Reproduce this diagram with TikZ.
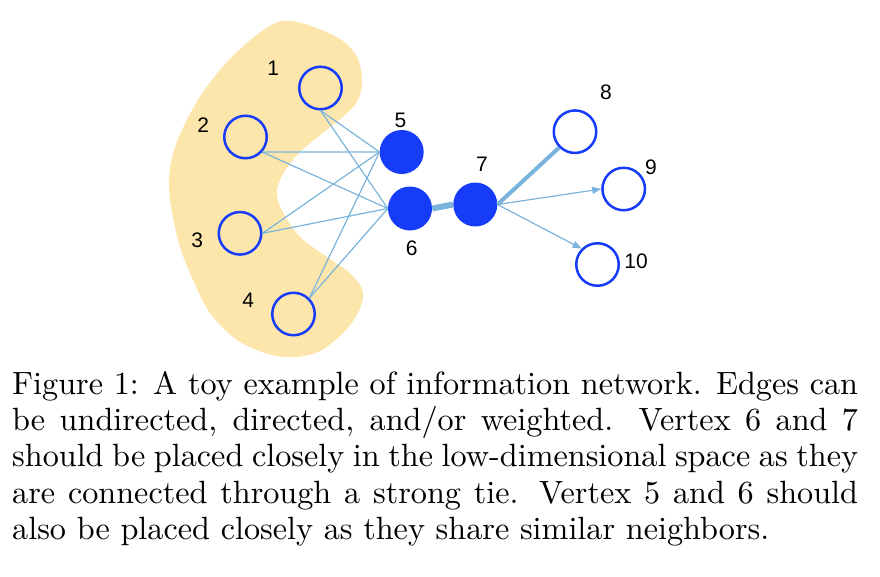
\documentclass[tikz,border=0pt]{standalone}
\usepackage{fontspec}
\usepackage{graphicx}
\newfontfamily\labfont{Liberation Sans}
\usetikzlibrary{arrows.meta}
\definecolor{blobc}{RGB}{252,230,172}
\definecolor{nodeb}{RGB}{22,60,250}
\definecolor{edgec}{RGB}{122,180,220}
\newcommand{\capl}[1]{\scalebox{3.22}{\fontsize{10}{12}\selectfont\makebox[262.7pt][s]{#1}}}
\begin{document}
\begin{tikzpicture}[x=1pt,y=-1pt,
  open/.style={circle,draw=nodeb,line width=2.5pt,minimum size=42.5pt,inner sep=0pt},
  full/.style={circle,fill=nodeb,minimum size=44pt,inner sep=0pt},
  lab/.style={font=\labfont\fontsize{21}{21}\selectfont,inner sep=0pt},
  thinedge/.style={draw=edgec,line width=1.2pt},
  arr/.style={thinedge,-{Triangle[length=9pt,width=7pt]}},
  capline/.style={anchor=base west,inner sep=0pt}]
\useasboundingbox (0,0) rectangle (880,576);
% blob
\fill[blobc] plot[smooth cycle, tension=0.55] coordinates {
  (282,21) (333,35) (356,55) (362,80) (358,100) (345,115) (300,152)
  (281,178) (277,196) (285,216) (300,237) (327,257) (350,273) (363,292)
  (358,313) (343,333) (320,351) (295,357) (268,354) (237,340) (210,313)
  (193,280) (180,247) (171,207) (169,180) (172,158) (181,132) (203,92)
  (237,52)};
% nodes
\node[open] (n1) at (320.5,88) {};
\node[open] (n2) at (245.5,137) {};
\node[open] (n3) at (240,233.3) {};
\node[open] (n4) at (293.5,314) {};
\node[full] (n5) at (401.7,152) {};
\node[full] (n6) at (410,208.5) {};
\node[full] (n7) at (475.3,204.5) {};
\node[open] (n8) at (575,131.7) {};
\node[open] (n9) at (623.7,189) {};
\node[open] (n10) at (597.5,264.5) {};
% labels
\node[lab] (l1) at (273.3,68.3) {1};
\node[lab] (l2) at (203.3,125) {2};
\node[lab] (l3) at (197.3,240) {3};
\node[lab] (l4) at (248.3,300.7) {4};
\node[lab] (l5) at (400.5,120) {5};
\node[lab] (l6) at (411.7,248.3) {6};
\node[lab] (l7) at (482,164.5) {7};
\node[lab] (l8) at (606,92.7) {8};
\node[lab] (l9) at (651,167.3) {9};
\node[lab] (l10) at (636,261.7) {10};
% edges
\draw[thinedge] (n1.south) -- (n5.west);
\draw[thinedge] (n1.south) -- (n6.west);
\draw[thinedge] (n2.-42) -- (n5.west);
\draw[thinedge] (n2.-42) -- (n6.west);
\draw[thinedge] (n3.east) -- (n5.west);
\draw[thinedge] (n3.east) -- (n6.west);
\draw[thinedge] (n4.45) -- (n5.west);
\draw[thinedge] (n4.45) -- (n6.west);
\draw[edgec,line width=6pt] (n6.east) -- (n7.west);
\draw[edgec,line width=4pt] (n7.east) -- (n8.225);
\draw[arr] (n7.east) -- (n9.west);
\draw[arr] (n7.east) -- (n10.135);
% caption
\node[capline] (c1) at (12,394) {\capl{Figure 1: A toy example of information network. Edges can}};
\node[capline] (c2) at (12,430.5) {\capl{be undirected, directed, and/or weighted. Vertex 6 and 7}};
\node[capline] (c3) at (12,466.8) {\capl{should be placed closely in the low-dimensional space as they}};
\node[capline] (c4) at (12,503.2) {\capl{are connected through a strong tie. Vertex 5 and 6 should}};
\node[capline] (c5) at (12,539.5) {\scalebox{3.22}{\fontsize{10}{12}\selectfont also be placed closely as they share similar neighbors.}};
\end{tikzpicture}
\end{document}
